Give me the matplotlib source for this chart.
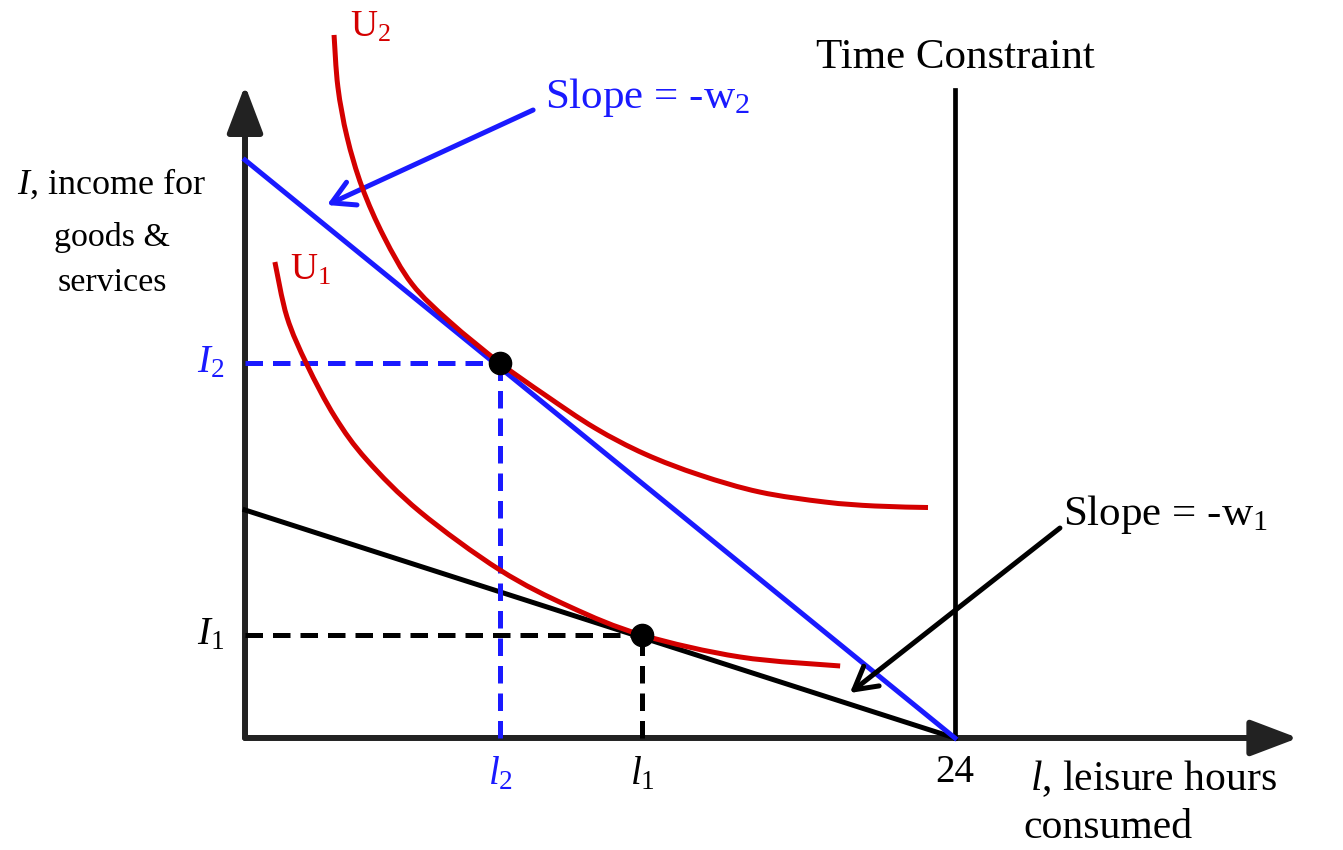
import matplotlib.pyplot as plt
from matplotlib.path import Path
from matplotlib.patches import PathPatch
import numpy as np

plt.rcParams['font.family'] = 'Liberation Serif'
plt.rcParams['mathtext.fontset'] = 'custom'
plt.rcParams['mathtext.rm'] = 'Liberation Serif'
plt.rcParams['mathtext.it'] = 'Liberation Serif:italic'

# hours in a day and the two wages (income per hour)
hours = 24
wages = [10.0, 25.35]          # w1, w2
# optimal choices (leisure, income)
leisure_opt = [13.42, 8.62]    # l1, l2
income_opt = [108.4, 394.7]    # I1, I2
# indifference curves
u1_x = [1.01, 1.42, 2.10, 3.04, 4.12, 5.92, 8.62, 10.99, 13.42, 16.73, 20.12]
u1_y = [501, 443, 392.6, 338, 292.6, 238, 176.8, 138, 108.4, 85.3, 75.8]
u2_x = [3.01, 3.14, 3.45, 3.955, 4.70, 5.645, 6.93, 8.62, 10.14, 11.83, 13.52, 15.375, 17.40, 19.60, 21.29, 23.09]
u2_y = [740, 685.3, 632.6, 580, 527.4, 477.9, 437.9, 394.7, 361.1, 326.3, 298.9, 276.8, 258.9, 248.4, 244.2, 242.6]
time_top = 682
x_axis_end = 35.6
y_axis_end = 687

RED = '#d40000'
BLUE = '#1a1aff'
AXC = '#222222'


def smooth_path(xs, ys):
    # Catmull-Rom through the read points, drawn as cubic Bezier segments
    p = np.column_stack([xs, ys]).astype(float)
    p = np.vstack([p[0], p, p[-1]])
    verts = [p[1]]
    codes = [Path.MOVETO]
    for i in range(1, len(p) - 2):
        c1 = p[i] + (p[i + 1] - p[i - 1]) / 6
        c2 = p[i + 1] - (p[i + 2] - p[i]) / 6
        verts += [c1, c2, p[i + 1]]
        codes += [Path.CURVE4] * 3
    return Path(verts, codes)


fig = plt.figure(figsize=(13.43, 8.5), dpi=100)
ax = fig.add_axes([0, 0, 1, 1])
ax.set_xlim(-8.283, 37.12)
ax.set_ylim(-117.9, 776.8)
ax.axis('off')

# axes with arrows
for tip in [(x_axis_end, 0), (0, y_axis_end)]:
    ax.annotate('', xy=tip, xytext=(0, 0),
                arrowprops=dict(arrowstyle='-|>,head_length=1.45,head_width=0.55', lw=4.3,
                                color=AXC, mutation_scale=20, shrinkA=0, shrinkB=0), zorder=2)

# time constraint
ax.plot([hours, hours], [0, time_top], color='black', lw=3.4, zorder=3)
ax.text(hours, 705, 'Time Constraint', fontsize=31, ha='center', va='baseline')

# budget lines
ax.plot([0, hours], [hours * wages[0], 0], color='black', lw=3.6, zorder=3)
ax.plot([0, hours], [hours * wages[1], 0], color=BLUE, lw=3.6, zorder=3)

# dashed guides
dash = (0, (3.5, 2))
ax.plot([0, leisure_opt[0]], [income_opt[0]] * 2, color='black', lw=3.6, ls=dash, zorder=4)
ax.plot([leisure_opt[0]] * 2, [0, income_opt[0]], color='black', lw=3.6, ls=dash, zorder=4)
ax.plot([0, leisure_opt[1]], [income_opt[1]] * 2, color=BLUE, lw=3.6, ls=dash, zorder=4)
ax.plot([leisure_opt[1]] * 2, [0, income_opt[1]], color=BLUE, lw=3.6, ls=dash, zorder=4)

# indifference curves
for xs, ys in [(u1_x, u1_y), (u2_x, u2_y)]:
    ax.add_patch(PathPatch(smooth_path(xs, ys), facecolor='none', edgecolor=RED,
                           lw=3.6, capstyle='butt', zorder=5))
ax.text(1.52, 482, 'U$_1$', color=RED, fontsize=27, ha='left', va='baseline')
ax.text(3.55, 738, 'U$_2$', color=RED, fontsize=27, ha='left', va='baseline')

# optimum points
ax.plot(leisure_opt, income_opt, 'o', color='black', ms=16, zorder=6)

# slope annotations
ax.annotate('', xy=(2.77, 561), xytext=(9.74, 661),
            arrowprops=dict(arrowstyle='->,head_length=0.8,head_width=0.45', lw=3.6,
                            color=BLUE, mutation_scale=20, shrinkA=0, shrinkB=0), zorder=4)
ax.text(10.14, 663, 'Slope = -w$_2$', color=BLUE, fontsize=31, ha='left', va='baseline')
ax.annotate('', xy=(20.45, 47.4), xytext=(27.55, 221),
            arrowprops=dict(arrowstyle='->,head_length=0.8,head_width=0.45', lw=3.6,
                            color='black', mutation_scale=20, shrinkA=0, shrinkB=0), zorder=4)
ax.text(27.65, 224, 'Slope = -w$_1$', color='black', fontsize=31, ha='left', va='baseline')

# axis labels
ax.text(-4.5, 573, '$I$, income for', fontsize=26, ha='center', va='baseline')
ax.text(-4.5, 518, 'goods &', fontsize=24.5, ha='center', va='baseline')
ax.text(-4.5, 470, 'services', fontsize=24.5, ha='center', va='baseline')
ax.text(26.54, -54.7, '$l$, leisure hours', fontsize=30, ha='left', va='baseline')
ax.text(26.3, -105, 'consumed', fontsize=30, ha='left', va='baseline')

# tick labels
ax.text(-0.7, income_opt[1], '$I_{\\mathit{2}}$', color=BLUE, fontsize=28, ha='right', va='center')
ax.text(-0.7, income_opt[0], '$I_{\\mathit{1}}$', color='black', fontsize=28, ha='right', va='center')
ax.text(leisure_opt[1], -38, '$l_{\\mathit{2}}$', color=BLUE, fontsize=28, ha='center', va='center')
ax.text(leisure_opt[0], -38, '$l_{\\mathit{1}}$', color='black', fontsize=28, ha='center', va='center')
ax.text(hours, -36, '24', fontsize=28, ha='center', va='center')

fig.savefig('out.png', dpi=100, facecolor='white')
